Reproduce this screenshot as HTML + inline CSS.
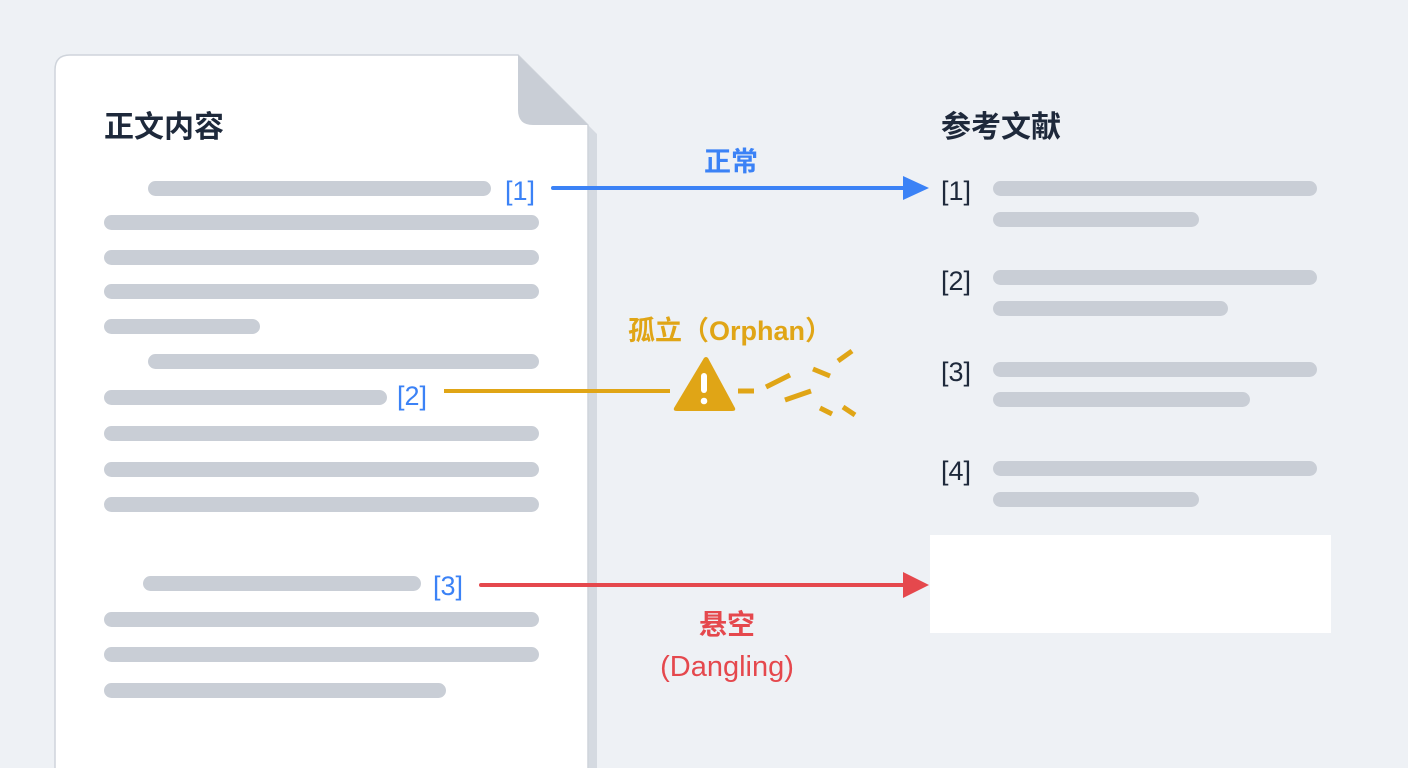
<!DOCTYPE html>
<html><head><meta charset="utf-8"><style>
html,body{margin:0;padding:0;width:1408px;height:768px;overflow:hidden;background:#eef1f5}
svg{display:block}
text{font-family:"Liberation Sans","Noto Sans CJK SC",sans-serif}
</style></head><body>
<svg width="1408" height="768" viewBox="0 0 1408 768" xmlns="http://www.w3.org/2000/svg">
<rect width="1408" height="768" fill="#eef1f5"/>
<path d="M585 122 L597 134 L597 768 L585 768 Z" fill="#d5dae1"/>
<path d="M70 55 L518 55 L588 125 L588 780 L55 780 L55 70 Q55 55 70 55 Z" fill="#ffffff" stroke="#cfd4db" stroke-width="1.5"/>
<path d="M518 55 L518 110 Q518 125 533 125 L588 125 Z" fill="#c9ced6"/>
<text x="104" y="137" font-size="30" font-weight="bold" fill="#1e293b">正文内容</text>
<g fill="#c9ced6">
<rect x="148" y="181" width="343" height="15" rx="7.5"/>
<rect x="104" y="215" width="435" height="15" rx="7.5"/>
<rect x="104" y="250" width="435" height="15" rx="7.5"/>
<rect x="104" y="284" width="435" height="15" rx="7.5"/>
<rect x="104" y="319" width="156" height="15" rx="7.5"/>
<rect x="148" y="354" width="391" height="15" rx="7.5"/>
<rect x="104" y="390" width="283" height="15" rx="7.5"/>
<rect x="104" y="426" width="435" height="15" rx="7.5"/>
<rect x="104" y="462" width="435" height="15" rx="7.5"/>
<rect x="104" y="497" width="435" height="15" rx="7.5"/>
<rect x="143" y="576" width="278" height="15" rx="7.5"/>
<rect x="104" y="612" width="435" height="15" rx="7.5"/>
<rect x="104" y="647" width="435" height="15" rx="7.5"/>
<rect x="104" y="683" width="342" height="15" rx="7.5"/>
<rect x="993" y="181" width="324" height="15" rx="7.5"/>
<rect x="993" y="212" width="206" height="15" rx="7.5"/>
<rect x="993" y="270" width="324" height="15" rx="7.5"/>
<rect x="993" y="301" width="235" height="15" rx="7.5"/>
<rect x="993" y="362" width="324" height="15" rx="7.5"/>
<rect x="993" y="392" width="257" height="15" rx="7.5"/>
<rect x="993" y="461" width="324" height="15" rx="7.5"/>
<rect x="993" y="492" width="206" height="15" rx="7.5"/>
</g>
<text x="505" y="200" font-size="27" fill="#3b82f6">[1]</text>
<text x="397" y="405" font-size="27" fill="#3b82f6">[2]</text>
<text x="433" y="595" font-size="27" fill="#3b82f6">[3]</text>
<text x="941" y="137" font-size="30" font-weight="bold" fill="#1e293b">参考文献</text>
<g font-size="27" fill="#1e293b">
<text x="941" y="200">[1]</text>
<text x="941" y="290">[2]</text>
<text x="941" y="381">[3]</text>
<text x="941" y="480">[4]</text>
</g>
<rect x="930" y="535" width="401" height="98" fill="#ffffff"/>
<line x1="553" y1="188" x2="906" y2="188" stroke="#3b82f6" stroke-width="4" stroke-linecap="round"/>
<path d="M903 176 L929 188 L903 200 Z" fill="#3b82f6"/>
<text x="731" y="171" font-size="27" font-weight="bold" fill="#3b82f6" text-anchor="middle">正常</text>
<line x1="481" y1="585" x2="906" y2="585" stroke="#e5484d" stroke-width="4" stroke-linecap="round"/>
<path d="M903 572 L929 585 L903 598 Z" fill="#e5484d"/>
<text x="727" y="634" font-size="28" font-weight="bold" fill="#e5484d" text-anchor="middle">悬空</text>
<text x="727" y="676" font-size="29" fill="#e5484d" text-anchor="middle">(Dangling)</text>
<line x1="444" y1="391" x2="670" y2="391" stroke="#e0a516" stroke-width="4"/>
<path d="M704 358 Q706 356 708 358 L735 408 Q736 411 732 411 L677 411 Q673 411 674 408 Z" fill="#e0a516"/>
<rect x="701" y="373" width="6" height="20" rx="3" fill="#fff"/>
<circle cx="704" cy="401" r="3.3" fill="#fff"/>
<g stroke="#e0a516" stroke-width="5" stroke-linecap="butt">
<line x1="738" y1="391" x2="754" y2="391"/>
<line x1="766" y1="387" x2="790" y2="375"/>
<line x1="785" y1="400" x2="811" y2="391"/>
<line x1="813" y1="369" x2="830" y2="376"/>
<line x1="838" y1="361" x2="852" y2="351"/>
<line x1="820" y1="408" x2="832" y2="414"/>
<line x1="843" y1="407" x2="855" y2="415"/>
</g>
<text x="730" y="340" font-size="27" font-weight="bold" fill="#e0a516" text-anchor="middle">孤立（Orphan）</text>
</svg>
</body></html>
